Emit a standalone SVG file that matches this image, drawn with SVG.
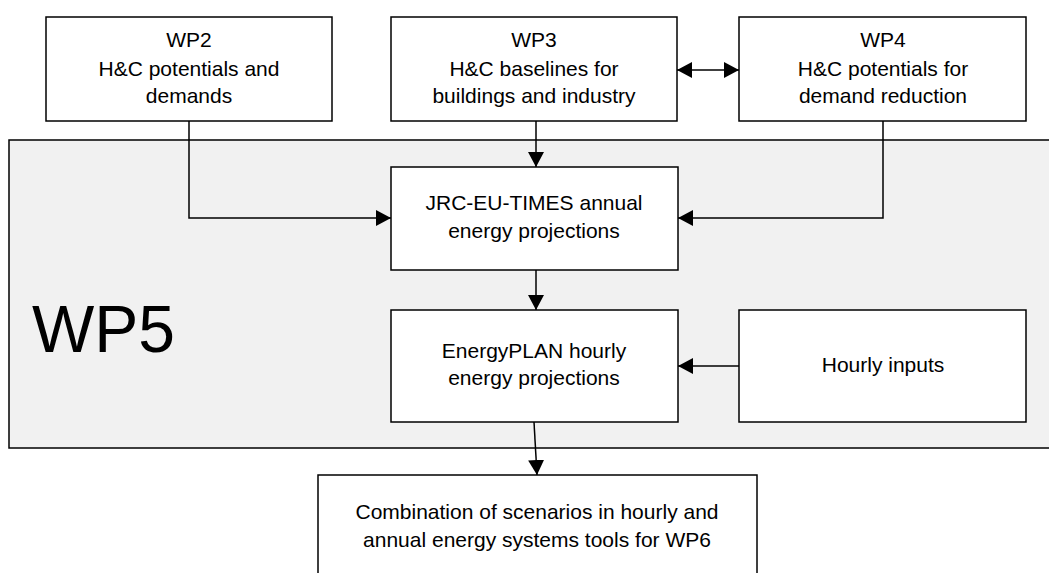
<svg xmlns="http://www.w3.org/2000/svg" width="1049" height="573" viewBox="0 0 1049 573">
<style>
.box{fill:#fff;stroke:#000;stroke-width:1.5}
.t{font-family:"Liberation Sans",Arial,sans-serif;font-size:21px;fill:#000;text-anchor:middle}
.c{fill:none;stroke:#000;stroke-width:1.5}
</style>
<defs>
<marker id="ah" markerUnits="userSpaceOnUse" markerWidth="16" markerHeight="16" refX="15" refY="8" orient="auto-start-reverse">
<path d="M0,0 L15,8 L0,16 Z" fill="#000"/>
</marker>
</defs>
<rect width="1049" height="573" fill="#fff"/>
<g id="wp5">
<rect x="9" y="140" width="1060" height="308" fill="#f1f1f1" stroke="#000" stroke-width="1.5"/>
<text x="32" y="352" style="font-family:'Liberation Sans',Arial,sans-serif;font-size:66px;fill:#000">WP5</text>
</g>
<g id="wp2">
<rect class="box" x="46" y="17" width="286" height="104"/>
<text class="t" x="189" y="47">WP2</text>
<text class="t" x="189" y="76">H&amp;C potentials and</text>
<text class="t" x="189" y="103">demands</text>
</g>
<g id="wp3">
<rect class="box" x="391" y="17" width="286" height="104"/>
<text class="t" x="534" y="47">WP3</text>
<text class="t" x="534" y="76">H&amp;C baselines for</text>
<text class="t" x="534" y="103">buildings and industry</text>
</g>
<g id="wp4">
<rect class="box" x="739" y="17" width="287" height="104"/>
<text class="t" x="883" y="47">WP4</text>
<text class="t" x="883" y="76">H&amp;C potentials for</text>
<text class="t" x="883" y="103">demand reduction</text>
</g>
<g id="jrc">
<rect class="box" x="391" y="167" width="287" height="103"/>
<text class="t" x="534" y="210">JRC-EU-TIMES annual</text>
<text class="t" x="534" y="238">energy projections</text>
</g>
<g id="energyplan">
<rect class="box" x="391" y="310" width="287" height="112"/>
<text class="t" x="534" y="358">EnergyPLAN hourly</text>
<text class="t" x="534" y="385">energy projections</text>
</g>
<g id="hourly">
<rect class="box" x="739" y="310" width="287" height="112"/>
<text class="t" x="883" y="372">Hourly inputs</text>
</g>
<g id="combination">
<rect class="box" x="318" y="475" width="439" height="110"/>
<text class="t" x="537" y="519">Combination of scenarios in hourly and</text>
<text class="t" x="537" y="547">annual energy systems tools for WP6</text>
</g>
<g id="connectors">
<path class="c" d="M189,121 V218 H391" marker-end="url(#ah)"/>
<path class="c" d="M536,121 V167" marker-end="url(#ah)"/>
<path class="c" d="M677,70 H739" marker-start="url(#ah)" marker-end="url(#ah)"/>
<path class="c" d="M883,121 V218 H678" marker-end="url(#ah)"/>
<path class="c" d="M536,270 V310" marker-end="url(#ah)"/>
<path class="c" d="M739,366 H678" marker-end="url(#ah)"/>
<path class="c" d="M534,422 L537,475" marker-end="url(#ah)"/>
</g>
</svg>
